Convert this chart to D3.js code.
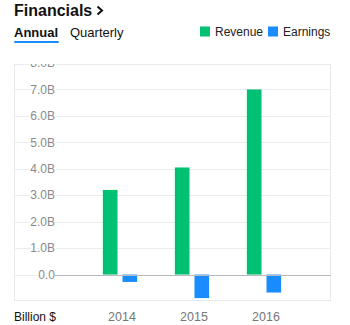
<!DOCTYPE html>
<html>
<head>
<meta charset="utf-8">
<script src="https://cdn.jsdelivr.net/npm/d3@7"></script>
<style>
  body { margin: 0; background: #fff; }
  svg { font-family: "Liberation Sans", Arial, sans-serif; display: block; }
</style>
</head>
<body>
<div id="chart"></div>
<script>
// chart data
let years = ["2014", "2015", "2016"];
let seriesNames = ["Revenue", "Earnings"];
let revenue = [3.2, 4.05, 7.0];
let earnings = [-0.28, -0.89, -0.68];
let yTicks = [0, 1, 2, 3, 4, 5, 6, 7, 8];

let width = 350, height = 325;
let plot = { left: 14, right: 331, top: 64, bottom: 301 };

let svg = d3.select("#chart")
    .append("svg")
    .attr("width", width)
    .attr("height", height);

let colors = d3.scaleOrdinal()
    .domain(seriesNames)
    .range(["#00c073", "#1a8cff"]);

// header
svg.append("text")
    .attr("x", 14)
    .attr("y", 16)
    .style("font-size", "16px")
    .style("font-weight", 700)
    .style("fill", "#111")
    .text("Financials");
svg.append("path")
    .attr("d", "M97.5,6.5 L102,10.5 L97.5,14.5")
    .style("fill", "none")
    .style("stroke", "#111")
    .style("stroke-width", 2);

svg.append("text")
    .attr("x", 14)
    .attr("y", 37)
    .style("font-size", "13px")
    .style("font-weight", 700)
    .style("fill", "#111")
    .text("Annual");
svg.append("rect")
    .attr("x", 14).attr("y", 41)
    .attr("width", 45).attr("height", 2)
    .attr("rx", 1)
    .style("fill", "#1a8cff");
svg.append("text")
    .attr("x", 70)
    .attr("y", 37)
    .style("font-size", "13px")
    .style("fill", "#111")
    .text("Quarterly");

// legend
let legendX = [200, 268];
let legend = svg.selectAll(".legend").data(seriesNames)
    .enter()
    .append("g")
    .attr("transform", function(d, i) { return `translate(${legendX[i]}, 26.5)`; });
legend.append("rect")
    .attr("width", 10).attr("height", 10)
    .style("fill", function(d) { return colors(d); });
legend.append("text")
    .attr("x", 15)
    .attr("y", 9)
    .style("font-size", "12px")
    .style("fill", "#222")
    .text(function(d) { return d; });

// scales
let y = d3.scaleLinear()
    .domain([-1, 8])
    .range([plot.bottom, 63]);

let x0 = d3.scaleBand()
    .domain(years)
    .range([84, 300]);

let x1 = d3.scaleBand()
    .domain(seriesNames)
    .range([0, 34.3])
    .paddingInner(0.254);

let defs = svg.append("defs");
defs.append("clipPath").attr("id", "plotClip")
    .append("rect")
    .attr("x", 0).attr("y", plot.top)
    .attr("width", width).attr("height", plot.bottom - plot.top);

let area = svg.append("g").attr("clip-path", "url(#plotClip)");

// frame
area.append("rect")
    .attr("x", plot.left + 0.5).attr("y", plot.top + 0.5)
    .attr("width", plot.right - plot.left - 1)
    .attr("height", plot.bottom - plot.top - 1)
    .style("fill", "none")
    .style("stroke", "#e8e9ec");

// gridlines
area.selectAll(".grid").data(yTicks.filter(function(d) { return d !== 0; }))
    .enter()
    .append("line")
    .attr("x1", plot.left).attr("x2", plot.right)
    .attr("y1", function(d) { return Math.round(y(d)) + 0.5; })
    .attr("y2", function(d) { return Math.round(y(d)) + 0.5; })
    .style("stroke", "#ebecef");

// y tick labels with white halo over the gridlines
area.selectAll(".ylab").data(yTicks)
    .enter()
    .append("text")
    .attr("x", 55)
    .attr("y", function(d) { return y(d); })
    .attr("dy", "0.35em")
    .style("text-anchor", "end")
    .style("font-size", "12px")
    .style("fill", "#8a8a8a")
    .style("stroke", "#fff")
    .style("stroke-width", 3)
    .style("paint-order", "stroke")
    .text(function(d) { return d === 0 ? "0.0" : d.toFixed(1) + "B"; });

// bars
let rows = years.map(function(yr, i) {
    return { year: yr, values: [
        { key: "Revenue", value: revenue[i] },
        { key: "Earnings", value: earnings[i] }
    ] };
});

let groups = area.selectAll(".year").data(rows)
    .enter()
    .append("g")
    .attr("transform", function(d) { return `translate(${x0(d.year) + x0.bandwidth() / 2 - 17.15}, 0)`; });

groups.selectAll("rect").data(function(d) { return d.values; })
    .enter()
    .append("rect")
    .attr("x", function(d) { return x1(d.key); })
    .attr("y", function(d) { return y(Math.max(0, d.value)); })
    .attr("width", x1.bandwidth())
    .attr("height", function(d) { return Math.abs(y(d.value) - y(0)); })
    .style("fill", function(d) { return colors(d.key); });

// zero line
area.append("line")
    .attr("x1", 55).attr("x2", plot.right)
    .attr("y1", Math.round(y(0)) + 0.5)
    .attr("y2", Math.round(y(0)) + 0.5)
    .style("stroke", "#b8bac0");
area.append("line")
    .attr("x1", plot.left).attr("x2", 38)
    .attr("y1", Math.round(y(0)) + 0.5)
    .attr("y2", Math.round(y(0)) + 0.5)
    .style("stroke", "#ebecef");

// x axis labels
svg.selectAll(".xlab").data(years)
    .enter()
    .append("text")
    .attr("x", function(d) { return x0(d) + x0.bandwidth() / 2 + 2; })
    .attr("y", 321)
    .style("text-anchor", "middle")
    .style("font-size", "12.5px")
    .style("fill", "#777")
    .text(function(d) { return d; });

svg.append("text")
    .attr("x", 14)
    .attr("y", 321)
    .style("font-size", "12px")
    .style("fill", "#111")
    .text("Billion $");
</script>
</body>
</html>
